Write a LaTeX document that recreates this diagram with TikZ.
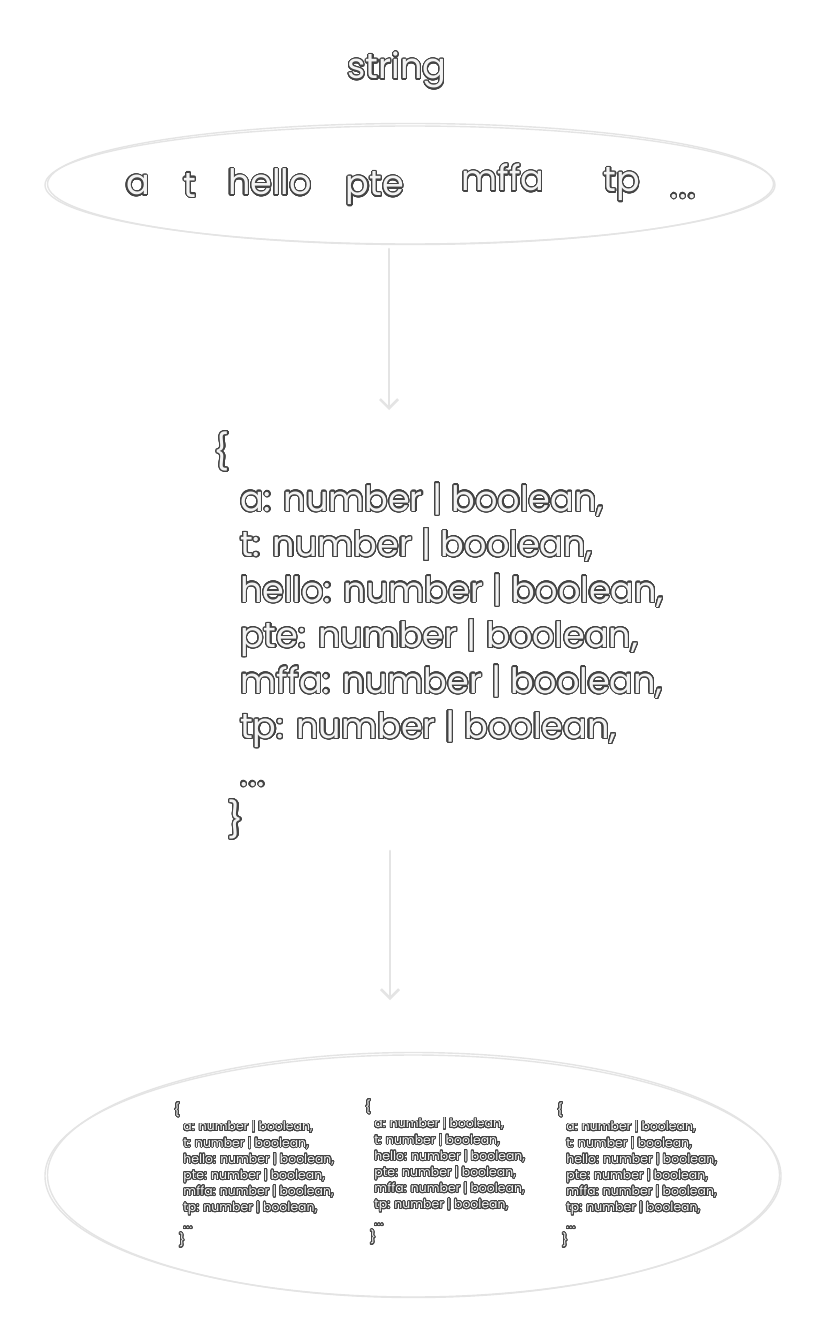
\documentclass[tikz,border=0pt]{standalone}
\usepackage{fontspec}
\setmainfont{Poppins}
\usepackage[copies]{contour}
\usetikzlibrary{arrows.meta}
\definecolor{outl}{HTML}{444444}
\definecolor{fillc}{HTML}{F3F3F3}
\definecolor{sketch}{HTML}{E4E4E4}
\contournumber{32}
\def\olw{1.2pt}
\newcommand\ol[1]{{\contourlength{\olw}\color{fillc}\contour{outl}{#1}}}
\newcommand\odots{.\kern1.5pt.\kern1.5pt.}
\tikzset{
  bigtxt/.style={font=\fontsize{35}{40}\selectfont, inner sep=0pt, anchor=base west},
  sketchline/.style={draw=sketch, line width=1.4pt},
  flow/.style={draw=sketch, line width=2.6pt, line cap=round,
    -{Straight Barb[length=9pt,width=18pt,line width=2.6pt]}},
}
\newcommand\codeblock[1]{%
  \node[bigtxt, anchor=center] (#1-ob) at (0,0) {\ol{\{}};
  \node[bigtxt] (#1-l1) at (18,59) {\ol{a: number | boolean,}};
  \node[bigtxt] (#1-l2) at (18,104.5) {\ol{t: number | boolean,}};
  \node[bigtxt] (#1-l3) at (18,150) {\ol{hello: number | boolean,}};
  \node[bigtxt] (#1-l4) at (18,195.5) {\ol{pte: number | boolean,}};
  \node[bigtxt] (#1-l5) at (18,241) {\ol{mffa: number | boolean,}};
  \node[bigtxt] (#1-l6) at (18,286.5) {\ol{tp: number | boolean,}};
  \node[bigtxt] (#1-dots) at (18,334) {\ol{\odots}};
  \node[bigtxt, anchor=center] (#1-cb) at (14,368) {\ol{\}}};
}
\begin{document}
\begin{tikzpicture}[x=1pt, y=-1pt]
\useasboundingbox[fill=white] (0,0) rectangle (828,1343);

% title
\node[bigtxt, anchor=base] (title) at (397,79) {\ol{string}};

% top ellipse
\draw[sketchline] (410,185) ellipse [x radius=365, y radius=59];
\draw[sketchline] (410.5,184) ellipse [x radius=363, y radius=60.5];
\node[bigtxt, anchor=base] (wa) at (138,195) {\ol{a}};
\node[bigtxt, anchor=base] (wt) at (190,197) {\ol{t}};
\node[bigtxt, anchor=base] (whello) at (270,195) {\ol{hello}};
\node[bigtxt, anchor=base] (wpte) at (375,196) {\ol{pte}};
\node[bigtxt, anchor=base] (wmffa) at (503,191) {\ol{mffa}};
\node[bigtxt, anchor=base] (wtp) at (622,192) {\ol{tp}};
\node[bigtxt, anchor=base] (wdots) at (683,198) {\ol{\odots}};

% arrow 1
\coordinate (a1s) at (389,249);
\coordinate (a1e) at (389,410);
\draw[flow] (a1s) -- (a1e);

% big block
\begin{scope}[shift={(222,452)}]
  \codeblock{big}
\end{scope}

% arrow 2
\coordinate (a2s) at (390,851);
\coordinate (a2e) at (390,1000);
\draw[flow] (a2s) -- (a2e);

% bottom ellipse
\draw[sketchline] (413,1176) ellipse [x radius=368, y radius=121];
\draw[sketchline] (413.5,1175) ellipse [x radius=366, y radius=122.5];

\def\olw{2.6pt}
\begin{scope}[shift={(177,1110)}, scale=0.355, transform shape]
  \codeblock{s1}
\end{scope}
\begin{scope}[shift={(368,1107)}, scale=0.355, transform shape]
  \codeblock{s2}
\end{scope}
\begin{scope}[shift={(560,1110)}, scale=0.355, transform shape]
  \codeblock{s3}
\end{scope}
\end{tikzpicture}
\end{document}
